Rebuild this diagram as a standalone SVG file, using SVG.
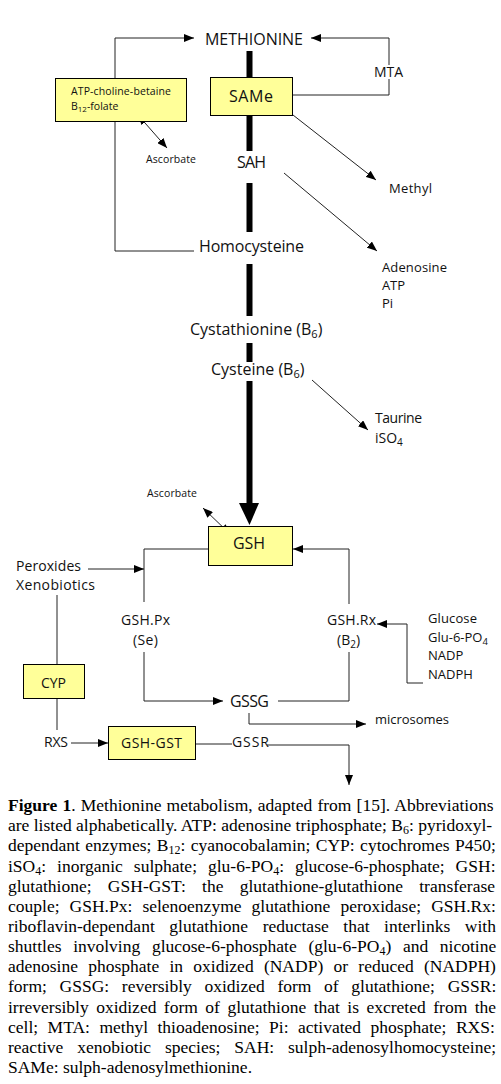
<svg xmlns="http://www.w3.org/2000/svg" width="501" height="1084" viewBox="0 0 501 1084">
<style>
.bg{fill:#ffffff}
.box{fill:#ffff99;stroke:#000;stroke-width:1}
.lbl{font-family:"Open Sans","Liberation Sans",sans-serif;fill:#111}
.big{font-size:16px}
.mid{font-size:14px}
.sm{font-size:13px}
.xs{font-size:10.5px}
.ln{fill:none;stroke:#222;stroke-width:1}
.thick{fill:#000}
.cap{font-family:"Liberation Serif","Times New Roman",serif;font-size:17.5px;fill:#000}
.sub{font-size:12px}
</style>
<defs>
<marker id="ah" viewBox="0 0 10 8" refX="10" refY="4" markerWidth="10" markerHeight="8" markerUnits="userSpaceOnUse" orient="auto">
<path d="M0,0 L10,4 L0,8 Z" fill="#000"/>
</marker>
<marker id="ahs" viewBox="0 0 10 8" refX="0" refY="4" markerWidth="10" markerHeight="8" markerUnits="userSpaceOnUse" orient="auto">
<path d="M10,0 L0,4 L10,8 Z" fill="#000"/>
</marker>
</defs>
<rect class="bg" x="0" y="0" width="501" height="1084"/>

<g id="connectors">
<path class="ln" d="M115,78 V38 H194" marker-end="url(#ah)"/>
<path class="ln" d="M292,95 H389 V79"/>
<path class="ln" d="M389,65 V38 H311" marker-end="url(#ah)"/>
<path class="ln" d="M115,121 V251 H194"/>
<path class="ln" d="M138,115 L167,148" marker-start="url(#ahs)" marker-end="url(#ah)"/>
<path class="ln" d="M293,115 L376,180" marker-end="url(#ah)"/>
<path class="ln" d="M284,173 L377,251" marker-end="url(#ah)"/>
<path class="ln" d="M312,380 L368,430" marker-end="url(#ah)"/>
<path class="ln" d="M203,508 L230,534" marker-start="url(#ahs)" marker-end="url(#ah)"/>
<path class="ln" d="M208,549 H144 V602"/>
<path class="ln" d="M88,569 H144" marker-end="url(#ah)"/>
<path class="ln" d="M349,604 V549 H293" marker-end="url(#ah)"/>
<path class="ln" d="M57,595 V664"/>
<path class="ln" d="M57,698 V730"/>
<path class="ln" d="M144,652 V701 H223" marker-end="url(#ah)"/>
<path class="ln" d="M278,701 H349 V652"/>
<path class="ln" d="M423,683 H407 V624 H377" marker-end="url(#ah)"/>
<path class="ln" d="M249,713 V724 H366" marker-end="url(#ah)"/>
<path class="ln" d="M71,743 H108" marker-end="url(#ah)"/>
<path class="ln" d="M195,744 H232"/>
<path class="ln" d="M267,745 H349 V785" marker-end="url(#ah)"/>
<rect class="thick" x="246.5" y="51" width="6" height="26"/>
<rect class="thick" x="246.5" y="115" width="6" height="36"/>
<rect class="thick" x="246.5" y="183" width="6" height="49"/>
<rect class="thick" x="246.5" y="264" width="6" height="52"/>
<rect class="thick" x="246.5" y="343" width="6" height="19"/>
<rect class="thick" x="246.5" y="381" width="6" height="123"/>
<polygon class="thick" points="239,503 259,503 249.5,525"/>
</g>

<g id="methionine"><text class="lbl big" x="205" y="45" textLength="98">METHIONINE</text></g>
<g id="mta"><text class="lbl mid" x="374" y="77" textLength="29">MTA</text></g>
<g id="atp-choline">
<rect class="box" x="55.5" y="78.5" width="131" height="43"/>
<text class="lbl xs" x="71" y="95" textLength="100">ATP-choline-betaine</text>
<text class="lbl xs" x="71" y="110">B<tspan font-size="8" dy="2">12</tspan><tspan dy="-2">-folate</tspan></text>
</g>
<g id="same">
<rect class="box" x="210.5" y="77.5" width="82" height="38"/>
<text class="lbl big" x="229" y="102" textLength="44">SAMe</text>
</g>
<g id="ascorbate1"><text class="lbl xs" x="146" y="163" textLength="50">Ascorbate</text></g>
<g id="sah"><text class="lbl big" x="237" y="168" textLength="29">SAH</text></g>
<g id="methyl"><text class="lbl sm" x="389" y="193" textLength="43">Methyl</text></g>
<g id="homocysteine"><text class="lbl big" x="199" y="252" textLength="105">Homocysteine</text></g>
<g id="adenosine">
<text class="lbl sm" x="382" y="272" textLength="65">Adenosine</text>
<text class="lbl sm" x="382" y="290" textLength="23">ATP</text>
<text class="lbl sm" x="382" y="308">Pi</text>
</g>
<g id="cystathionine"><text class="lbl big" x="190" y="335">Cystathionine (B<tspan font-size="11" dy="3">6</tspan><tspan dy="-3">)</tspan></text></g>
<g id="cysteine"><text class="lbl big" x="211" y="375">Cysteine (B<tspan font-size="11" dy="3">6</tspan><tspan dy="-3">)</tspan></text></g>
<g id="taurine">
<text class="lbl mid" x="375" y="423" textLength="47">Taurine</text>
<text class="lbl mid" x="375" y="443">iSO<tspan font-size="10" dy="3">4</tspan></text>
</g>
<g id="ascorbate2"><text class="lbl xs" x="147" y="497" textLength="50">Ascorbate</text></g>
<g id="gsh">
<rect class="box" x="208.5" y="526.5" width="84" height="39"/>
<text class="lbl big" x="233" y="549" textLength="32">GSH</text>
</g>
<g id="peroxides">
<text class="lbl mid" x="16" y="571" textLength="65">Peroxides</text>
<text class="lbl mid" x="16" y="590" textLength="79">Xenobiotics</text>
</g>
<g id="gshpx">
<text class="lbl mid" x="121" y="625" textLength="49">GSH.Px</text>
<text class="lbl mid" x="133" y="645" textLength="25">(Se)</text>
</g>
<g id="gshrx">
<text class="lbl mid" x="327" y="625" textLength="49">GSH.Rx</text>
<text class="lbl mid" x="337" y="645">(B<tspan font-size="10" dy="3">2</tspan><tspan dy="-3">)</tspan></text>
</g>
<g id="glucose">
<text class="lbl sm" x="428" y="623" textLength="49">Glucose</text>
<text class="lbl sm" x="428" y="642">Glu-6-PO<tspan font-size="9.5" dy="3">4</tspan></text>
<text class="lbl sm" x="428" y="660">NADP</text>
<text class="lbl sm" x="428" y="679">NADPH</text>
</g>
<g id="cyp">
<rect class="box" x="23.5" y="664.5" width="61" height="34"/>
<text class="lbl mid" x="41" y="688" textLength="25">CYP</text>
</g>
<g id="gssg"><text class="lbl big" x="230" y="707" textLength="39">GSSG</text></g>
<g id="microsomes"><text class="lbl sm" x="375" y="724" textLength="74">microsomes</text></g>
<g id="rxs"><text class="lbl mid" x="44" y="747" textLength="24">RXS</text></g>
<g id="gshgst">
<rect class="box" x="108.5" y="726.5" width="87" height="33"/>
<text class="lbl mid" x="121" y="748" textLength="61">GSH-GST</text>
</g>
<g id="gssr"><text class="lbl mid" x="232" y="747" textLength="37">GSSR</text></g>

<g id="caption">
<text class="cap" x="8" y="811" word-spacing="0.8"><tspan font-weight="bold">Figure 1</tspan>. Methionine metabolism, adapted from [15]. Abbreviations</text>
<text class="cap" x="8" y="831.2" word-spacing="0">are listed alphabetically. ATP: adenosine triphosphate; B<tspan class="sub" dy="3">6</tspan><tspan dy="-3">: pyridoxyl-</tspan></text>
<text class="cap" x="8" y="851.3" word-spacing="1.05">dependant enzymes; B<tspan class="sub" dy="3">12</tspan><tspan dy="-3">: cyanocobalamin; CYP: cytochromes P450;</tspan></text>
<text class="cap" x="8" y="871.5" word-spacing="6.6">iSO<tspan class="sub" dy="3">4</tspan><tspan dy="-3">: inorganic sulphate; glu-6-PO</tspan><tspan class="sub" dy="3">4</tspan><tspan dy="-3">: glucose-6-phosphate; GSH:</tspan></text>
<text class="cap" x="8" y="891.6" word-spacing="11.9">glutathione; GSH-GST: the glutathione-glutathione transferase</text>
<text class="cap" x="8" y="911.8" word-spacing="5.7">couple; GSH.Px: selenoenzyme glutathione peroxidase; GSH.Rx:</text>
<text class="cap" x="8" y="931.9" word-spacing="10.2">riboflavin-dependant glutathione reductase that interlinks with</text>
<text class="cap" x="8" y="952.1" word-spacing="7.3">shuttles involving glucose-6-phosphate (glu-6-PO<tspan class="sub" dy="3">4</tspan><tspan dy="-3">) and nicotine</tspan></text>
<text class="cap" x="8" y="972.2" word-spacing="5.9">adenosine phosphate in oxidized (NADP) or reduced (NADPH)</text>
<text class="cap" x="8" y="992.4" word-spacing="8.3">form; GSSG: reversibly oxidized form of glutathione; GSSR:</text>
<text class="cap" x="8" y="1012.5" word-spacing="3.1">irreversibly oxidized form of glutathione that is excreted from the</text>
<text class="cap" x="8" y="1032.7" word-spacing="5.1">cell; MTA: methyl thioadenosine; Pi: activated phosphate; RXS:</text>
<text class="cap" x="8" y="1052.8" word-spacing="9.5">reactive xenobiotic species; SAH: sulph-adenosylhomocysteine;</text>
<text class="cap" x="8" y="1073">SAMe: sulph-adenosylmethionine.</text>
</g>
</svg>
